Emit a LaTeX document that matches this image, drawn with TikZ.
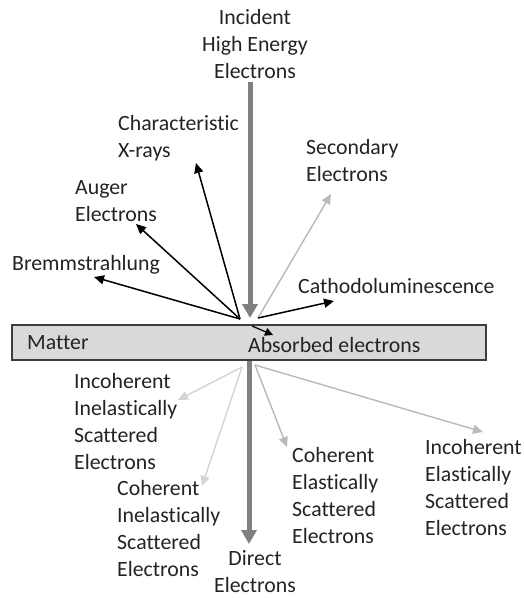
\documentclass[tikz,border=0pt]{standalone}
\usepackage{fontspec}
\setmainfont[Ligatures={NoCommon}]{Carlito}
\usetikzlibrary{arrows.meta}
\definecolor{thickgray}{RGB}{128,128,128}
\definecolor{midgray}{RGB}{185,185,185}
\definecolor{lightgray2}{RGB}{212,212,212}
\definecolor{boxfill}{RGB}{217,217,217}
\definecolor{boxline}{RGB}{60,60,60}
\definecolor{txt}{RGB}{35,35,35}
\tikzset{
  lbl/.style={inner sep=0pt, align=left, text=txt, font=\fontsize{21.8}{27}\selectfont},
  clbl/.style={inner sep=0pt, align=center, text=txt, font=\fontsize{21.8}{27}\selectfont},
  thick arrow/.style={draw=thickgray, line width=5pt, -{Triangle[length=14pt,width=15pt]}},
  black arrow/.style={draw=black, line width=1.5pt, -{Triangle[length=10pt,width=9pt]}},
  mid arrow/.style={draw=midgray, line width=1.4pt, -{Triangle[length=10pt,width=9pt]}},
  light arrow/.style={draw=lightgray2, line width=1.4pt, -{Triangle[length=10pt,width=9pt]}},
}
\begin{document}
\begin{tikzpicture}[x=1pt,y=-1pt]
\useasboundingbox (0,0) rectangle (523,598);
% matter box
\node[draw=boxline, fill=boxfill, line width=1.5pt, minimum width=474pt, minimum height=35pt, inner sep=0pt] (matter) at (249,342.5) {};
\node[lbl, anchor=west] (mattertxt) at (27,343) {Matter};
\node[lbl, anchor=west] (absorbed) at (248,345) {Absorbed electrons};
% origins
\coordinate (o1) at (240,319);
\coordinate (o2) at (258,318);
\coordinate (o3) at (242,367);
\coordinate (o4) at (255,365);
% incident
\node[clbl] (incident) at (255,44.5) {Incident\\High Energy\\Electrons};
\coordinate (inctop) at (250,82);
\coordinate (inctip) at (250,318);
\draw[thick arrow] (inctop) -- (inctip);
% top labels
\node[lbl, anchor=west] (xray) at (118,138) {Characteristic\\X-rays};
\node[lbl, anchor=west] (auger) at (75,201.5) {Auger\\Electrons};
\node[lbl, anchor=west] (brems) at (12,265) {Bremmstrahlung};
\node[lbl, anchor=west] (second) at (306,161) {Secondary\\Electrons};
\node[lbl, anchor=west] (cathodo) at (298,286) {Cathodoluminescence};
\coordinate (txray) at (196,163);
\coordinate (tauger) at (136,224);
\coordinate (tbrems) at (94,277);
\coordinate (tsec) at (331,194);
\coordinate (tcat) at (334,301);
\draw[black arrow] (o1) -- (txray);
\draw[black arrow] (o1) -- (tauger);
\draw[black arrow] (o1) -- (tbrems);
\draw[mid arrow] (o2) -- (tsec);
\draw[black arrow] (o2) -- (tcat);
% absorbed arrow
\coordinate (abs1) at (252,326);
\coordinate (abs2) at (273,335);
\draw[black arrow, line width=1.2pt, -{Triangle[length=8pt,width=8pt]}] (abs1) -- (abs2);
% direct
\coordinate (dirtop) at (249,361);
\coordinate (dirtip) at (249,544);
\draw[thick arrow] (dirtop) -- (dirtip);
\node[clbl] (direct) at (255,572) {Direct\\Electrons};
% bottom labels
\node[lbl, anchor=west] (iie) at (74,421.5) {Incoherent\\Inelastically\\Scattered\\Electrons};
\node[lbl, anchor=west] (cie) at (117,528.5) {Coherent\\Inelastically\\Scattered\\Electrons};
\node[lbl, anchor=west] (cee) at (292,496) {Coherent\\Elastically\\Scattered\\Electrons};
\node[lbl, anchor=west] (iee) at (425,488) {Incoherent\\Elastically\\Scattered\\Electrons};
\coordinate (tiie) at (178,400);
\coordinate (tcie) at (202,486);
\coordinate (tcee) at (287,447);
\coordinate (tiee) at (483,432);
\draw[light arrow] (o3) -- (tiie);
\draw[light arrow] (o3) -- (tcie);
\draw[mid arrow] (o4) -- (tcee);
\draw[mid arrow] (o4) -- (tiee);
\end{tikzpicture}
\end{document}
